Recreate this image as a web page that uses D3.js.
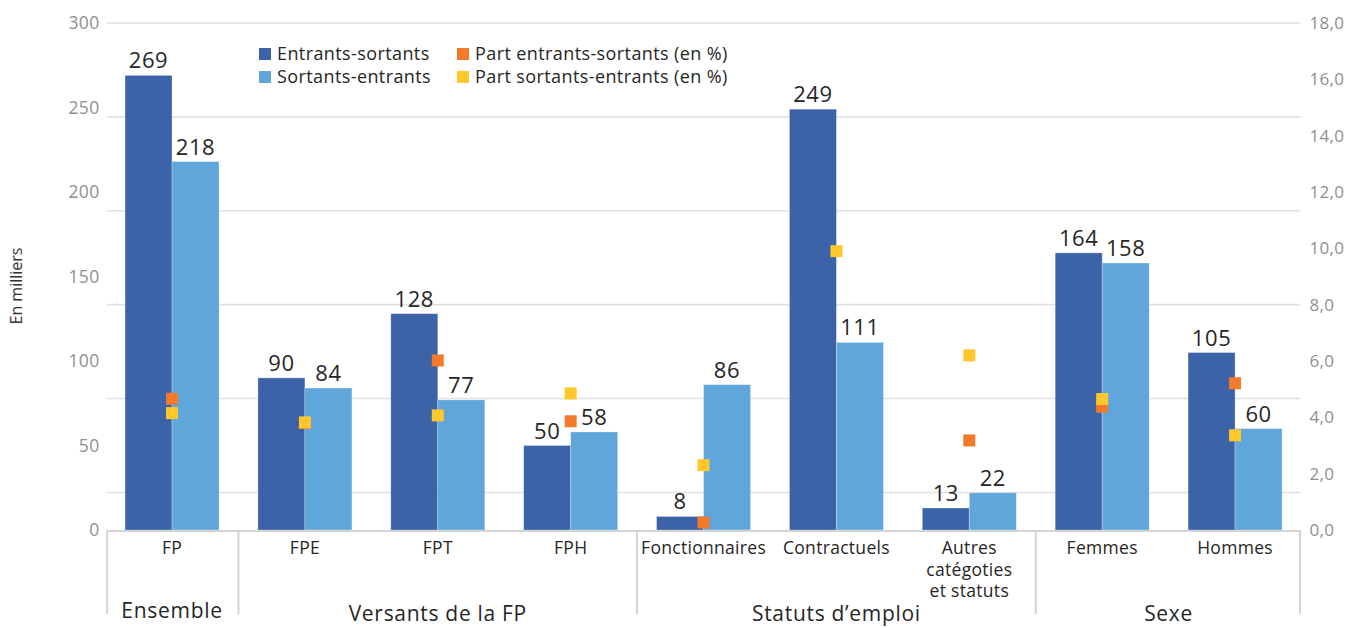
<!DOCTYPE html>
<html>
<head>
<meta charset="utf-8">
<script src="https://cdn.jsdelivr.net/npm/d3@7"></script>
<style>
  html, body { margin: 0; padding: 0; background: #fff; }
  svg { display: block; font-family: "Open Sans", sans-serif; }
</style>
</head>
<body>
<svg id="chart" width="1362" height="628"></svg>
<script>
// ---- Data ----
const categories = ["FP", "FPE", "FPT", "FPH", "Fonctionnaires", "Contractuels", "Autres catégoties et statuts", "Femmes", "Hommes"];
const categoryLines = [["FP"], ["FPE"], ["FPT"], ["FPH"], ["Fonctionnaires"], ["Contractuels"], ["Autres", "catégoties", "et statuts"], ["Femmes"], ["Hommes"]];
const groups = [
  { name: "Ensemble", from: 0, to: 0 },
  { name: "Versants de la FP", from: 1, to: 3 },
  { name: "Statuts d’emploi", from: 4, to: 6 },
  { name: "Sexe", from: 7, to: 8 }
];
const entrantsSortants = [269, 90, 128, 50, 8, 249, 13, 164, 105];
const sortantsEntrants = [218, 84, 77, 58, 86, 111, 22, 158, 60];
const partEntrantsSortants = [4.66, 3.8, 6.02, 3.86, 0.27, 22.0, 3.18, 4.38, 5.21];
const partSortantsEntrants = [4.15, 3.82, 4.07, 4.85, 2.3, 9.9, 6.2, 4.65, 3.36];
const leftTicks = [0, 50, 100, 150, 200, 250, 300];
const rightTicks = [0, 2, 4, 6, 8, 10, 12, 14, 16, 18];
const seriesNames = ["Entrants-sortants", "Sortants-entrants", "Part entrants-sortants (en %)", "Part sortants-entrants (en %)"];

// ---- Styles ----
const colors = { es: "#3C63A7", se: "#5FA7DB", pes: "#F47A2B", pse: "#FFC72C" };
const svg = d3.select("#chart");
const plot = { left: 105.6, right: 1301.5, top: 23, bottom: 530 };

const yL = d3.scaleLinear().domain([0, 300]).range([plot.bottom, plot.top]);
const yR = d3.scaleLinear().domain([0, 18]).range([plot.bottom, plot.top]);
const x0 = d3.scaleBand().domain(categories).range([plot.left, plot.right]).paddingInner(0.2926).paddingOuter(0.1463);
const x1 = d3.scaleBand().domain(["es", "se"]).range([0, x0.bandwidth()]);
const step = x0.step();

// Gridlines (Excel-like, 6 lines spaced 1/5.4 of height from top)
const gridVals = d3.range(6).map(k => 300 - k * 500 / 9);
svg.append("g").selectAll("line").data(gridVals).join("line")
  .attr("x1", 107).attr("x2", 1300)
  .attr("y1", d => yL(d)).attr("y2", d => yL(d))
  .attr("stroke", "#e1e1e1").attr("stroke-width", 1.6);

// Left axis
const gL = svg.append("g").attr("transform", `translate(${plot.left - 4},0)`)
  .call(d3.axisLeft(yL).tickValues(leftTicks).tickSize(0).tickPadding(2));
gL.select(".domain").remove();
gL.selectAll("text").attr("fill", "#8f8f8f").style("font-size", "17.5px")
  .style("letter-spacing", "0.4px").style("font-family", "Open Sans, sans-serif");

// Right axis
const gR = svg.append("g").attr("transform", `translate(${plot.right + 6},0)`)
  .call(d3.axisRight(yR).tickValues(rightTicks).tickSize(0).tickPadding(2)
    .tickFormat(d => d3.format(".1f")(d).replace(".", ",")));
gR.select(".domain").remove();
gR.selectAll("text").attr("fill", "#8f8f8f").style("font-size", "17px")
  .style("letter-spacing", "0.3px").style("font-family", "Open Sans, sans-serif");

// Y title
svg.append("text").attr("transform", `translate(22,286) rotate(-90)`)
  .attr("text-anchor", "middle").attr("fill", "#333").style("font-size", "16px").text("En milliers");

// Bars
const barData = categories.map((c, i) => [
  { c, key: "es", v: entrantsSortants[i] },
  { c, key: "se", v: sortantsEntrants[i] }
]).flat();
svg.append("g").selectAll("rect").data(barData).join("rect")
  .attr("x", d => x0(d.c) + x1(d.key))
  .attr("width", x1.bandwidth())
  .attr("y", d => yL(d.v))
  .attr("height", d => yL(0) - yL(d.v))
  .attr("fill", d => colors[d.key])
  .attr("stroke", "#ffffff").attr("stroke-opacity", 0.35).attr("stroke-width", 0.8);

// Data labels
svg.append("g").selectAll("text").data(barData).join("text")
  .attr("x", d => x0(d.c) + x1(d.key) + x1.bandwidth() / 2)
  .attr("y", d => yL(d.v) - 7)
  .attr("text-anchor", "middle").attr("fill", "#262626")
  .style("font-size", "22px").style("letter-spacing", "0.6px").text(d => d.v);

// Markers (clipped to plot area)
svg.append("clipPath").attr("id", "clip").append("rect")
  .attr("x", plot.left).attr("y", plot.top - 8).attr("width", plot.right - plot.left).attr("height", plot.bottom - plot.top + 16);
const mk = 12;
const gM = svg.append("g").attr("clip-path", "url(#clip)");
gM.selectAll("rect.pes").data(categories.map((c, i) => ({ c, v: partEntrantsSortants[i] }))).join("rect")
  .attr("class", "pes")
  .attr("x", d => x0(d.c) + x0.bandwidth() / 2 - mk / 2)
  .attr("y", d => yR(d.v) - mk / 2)
  .attr("width", mk).attr("height", mk).attr("fill", colors.pes);
gM.selectAll("rect.pse").data(categories.map((c, i) => ({ c, v: partSortantsEntrants[i] }))).join("rect")
  .attr("class", "pse")
  .attr("x", d => x0(d.c) + x0.bandwidth() / 2 - mk / 2)
  .attr("y", d => yR(d.v) - mk / 2)
  .attr("width", mk).attr("height", mk).attr("fill", colors.pse);

// Category axis
const axisColor = "#d4d4d4";
svg.append("line").attr("x1", 107).attr("x2", 1300).attr("y1", plot.bottom + 1).attr("y2", plot.bottom + 1)
  .attr("stroke", axisColor).attr("stroke-width", 2);
const sepX = [plot.left + 1.5].concat(groups.map(g => plot.left + (g.to + 1) * step)).map((x, i, a) => i === a.length - 1 ? 1300 : x);
svg.append("g").selectAll("line").data(sepX).join("line")
  .attr("x1", d => d).attr("x2", d => d)
  .attr("y1", plot.bottom).attr("y2", 614)
  .attr("stroke", axisColor).attr("stroke-width", 2);

// Category labels
const gC = svg.append("g");
categories.forEach((c, i) => {
  const t = gC.append("text").attr("x", x0(c) + x0.bandwidth() / 2).attr("y", 554)
    .attr("text-anchor", "middle").attr("fill", "#262626")
    .style("font-size", "17.5px").style("letter-spacing", "0.3px");
  categoryLines[i].forEach((line, j) => {
    t.append("tspan").attr("x", x0(c) + x0.bandwidth() / 2).attr("dy", j === 0 ? 0 : 21.5).text(line);
  });
});

// Group labels
svg.append("g").selectAll("text").data(groups).join("text")
  .attr("x", g => plot.left + ((g.from + g.to + 1) / 2) * step)
  .attr("y", (g, i) => i === 0 ? 618 : 621)
  .attr("text-anchor", "middle").attr("fill", "#262626")
  .style("font-size", "21px").style("letter-spacing", "0.7px")
  .text(g => g.name);

// Legend
const legend = [
  { name: seriesNames[0], color: colors.es, x: 259, y: 54 },
  { name: seriesNames[1], color: colors.se, x: 259, y: 77 },
  { name: seriesNames[2], color: colors.pes, x: 457, y: 54 },
  { name: seriesNames[3], color: colors.pse, x: 457, y: 77 }
];
const gLeg = svg.append("g");
legend.forEach(l => {
  gLeg.append("rect").attr("x", l.x).attr("y", l.y - 6).attr("width", 12).attr("height", 12).attr("fill", l.color);
  gLeg.append("text").attr("x", l.x + 18).attr("y", l.y + 6).attr("fill", "#262626")
    .style("font-size", "18px").style("letter-spacing", "0.4px").text(l.name);
});
</script>
</body>
</html>
